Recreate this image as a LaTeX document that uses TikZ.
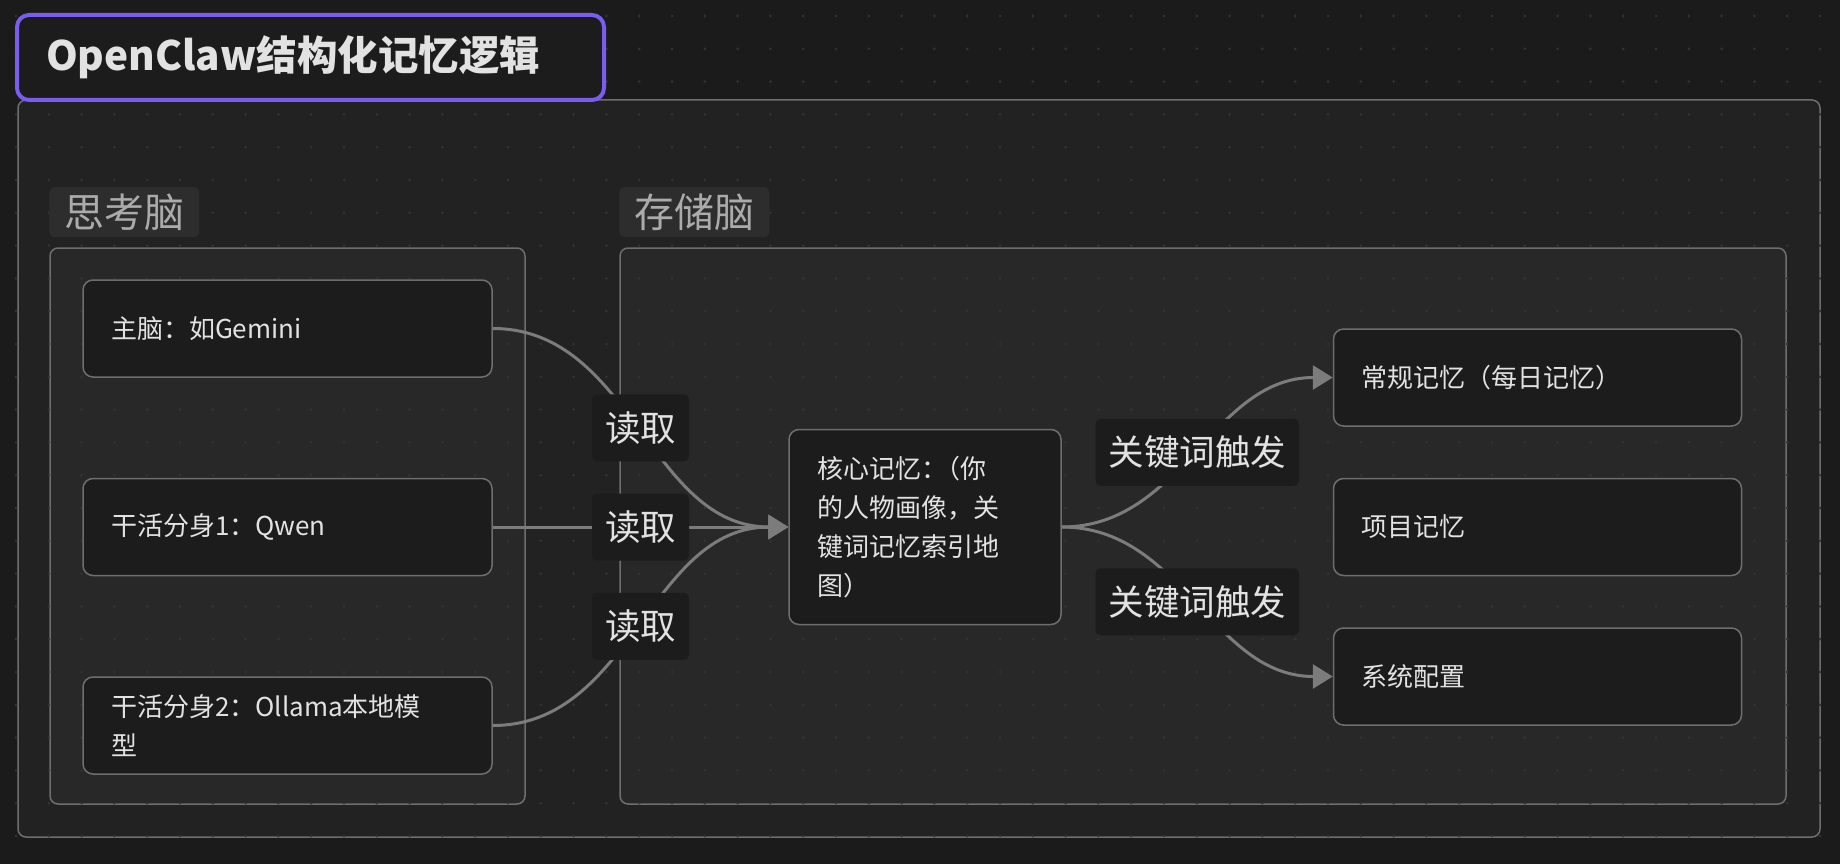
\documentclass[tikz,border=0pt]{standalone}
\usepackage{fontspec}
\setmainfont{Noto Sans CJK SC}
\usetikzlibrary{arrows.meta,positioning}

\definecolor{canvas}{HTML}{1B1B1B}
\definecolor{framefill}{HTML}{222222}
\definecolor{groupfill}{HTML}{282828}
\definecolor{cardfill}{HTML}{1C1C1C}
\definecolor{edgeline}{HTML}{7C7C7C}
\definecolor{boxline}{HTML}{6E6E6E}
\definecolor{cardtext}{HTML}{E2E2E2}
\definecolor{grouptext}{HTML}{ABABAB}
\definecolor{tagfill}{HTML}{2D2D2D}
\definecolor{titleline}{HTML}{7B5CF0}
\definecolor{griddot}{HTML}{333333}

\begin{document}
\begin{tikzpicture}[x=1pt,y=-1pt,node distance=100pt and 0pt]
  \tikzset{
    card/.style={draw=boxline,fill=cardfill,rounded corners=10pt,line width=1.5pt,
      minimum height=97pt,text width=353pt,inner xsep=28pt,align=left,text=cardtext,
      font=\fontsize{26}{39}\selectfont},
    group/.style={draw=boxline,fill=groupfill,rounded corners=8pt,line width=1.5pt},
    grouptag/.style={fill=tagfill,rounded corners=5pt,text=grouptext,minimum height=50pt,
      inner xsep=15pt,font=\fontsize{40}{40}\selectfont},
    edgetag/.style={fill=cardfill,rounded corners=5pt,text=cardtext,minimum height=67pt,
      inner xsep=13pt,font=\fontsize{35.5}{35.5}\selectfont},
    link/.style={draw=edgeline,line width=3pt,-{Triangle[length=20pt,width=24pt]}}
  }
  \useasboundingbox (0,0) rectangle (1840,864);
  \fill[canvas] (0,0) rectangle (1840,864);
  % outer frame and the two groups
  \node[group,fill=framefill,minimum width=1802pt,minimum height=737pt] (frame) at (919,468.5) {};
  \node[group,minimum width=475pt,minimum height=556pt] (think) at (287.5,526) {};
  \node[group,minimum width=1166pt,minimum height=556pt] (store) at (1203,526) {};
  % dotted grid
  \foreach \i in {0,...,55}
    \foreach \j in {0,...,26}
      \fill[griddot] (16+32.8*\i,16+32.8*\j) circle (1.5pt);
  \node[grouptag,above=10pt of think.north west,anchor=south west] (thinktag) {思考脑};
  \node[grouptag,above=10pt of store.north west,anchor=south west] (storetag) {存储脑};
  % title
  \node[draw=titleline,line width=4pt,fill=cardfill,rounded corners=12pt,anchor=west,
    minimum height=85pt,text width=529pt,inner xsep=29pt,align=left,text=cardtext,
    font=\bfseries\fontsize{40.5}{40.5}\selectfont] (title) at (15,57.5) {OpenClaw结构化记忆逻辑};
  % thinking side
  \node[card] (main) at (287.5,328.5) {主脑：如Gemini};
  \node[card,below=of main] (work1) {干活分身1：Qwen};
  \node[card,below=of work1] (work2) {干活分身2：Ollama本地模\\型};
  % storage side
  \node[card,right=295.5pt of work1,text width=216pt,minimum height=195pt] (core) {核心记忆：\kern-.5em（你\\的人物画像，关\\键词记忆索引地\\图）};
  \node[card,right=271pt of core,text width=352pt] (project) {项目记忆};
  \node[card,above=51pt of project,text width=352pt] (daily) {常规记忆（每日记忆）};
  \node[card,below=51pt of project,text width=352pt] (system) {系统配置};
  % links
  \draw[link] (main.east) to[out=0,in=180] node[edgetag] {读取} (core.west);
  \draw[link] (work1.east) to[out=0,in=180] node[edgetag] {读取} (core.west);
  \draw[link] (work2.east) to[out=0,in=180] node[edgetag] {读取} (core.west);
  \draw[link] (core.east) to[out=0,in=180] node[edgetag] {关键词触发} (daily.west);
  \draw[link] (core.east) to[out=0,in=180] node[edgetag] {关键词触发} (system.west);
\end{tikzpicture}
\end{document}
